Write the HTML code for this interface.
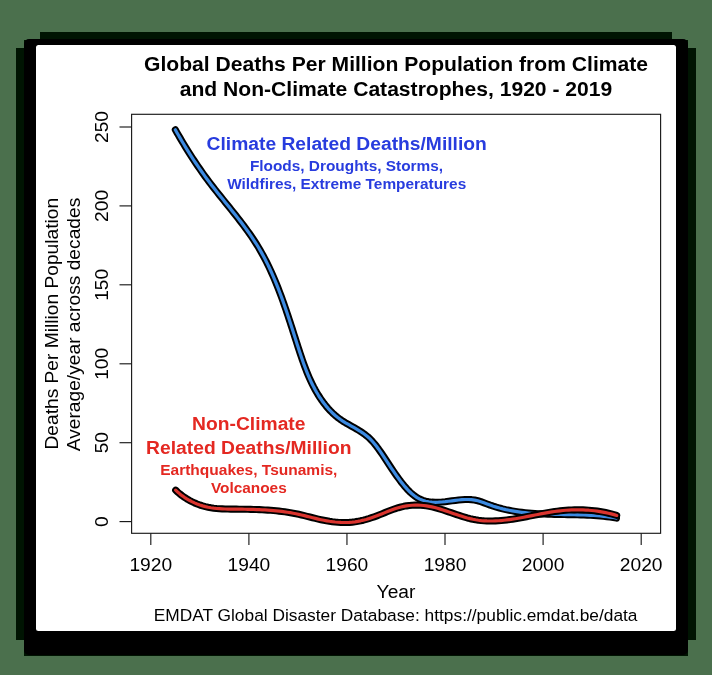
<!DOCTYPE html>
<html><head><meta charset="utf-8">
<style>
html,body{margin:0;padding:0;width:712px;height:675px;overflow:hidden;background:rgb(75,112,77);}
svg{position:absolute;left:0;top:0;will-change:transform;}
text{font-family:"Liberation Sans",sans-serif;}
</style></head>
<body>
<svg width="712" height="675" viewBox="0 0 712 675">
  <!-- shadow -->
  <g>
    <rect x="40" y="32" width="632" height="8" fill="rgb(0,20,2)"/>
    <rect x="24" y="40" width="664" height="616" fill="rgb(0,20,2)"/>
    <rect x="16" y="48" width="680" height="592" fill="rgb(0,20,2)"/>
    <rect x="24" y="39" width="664" height="616" rx="5" fill="#000"/>
  </g>
  <!-- card -->
  <rect x="36" y="45" width="640" height="586" rx="2.5" fill="#fff"/>

  <!-- title -->
  <g font-weight="bold" font-size="21.1" text-anchor="middle" fill="#000">
    <text x="396" y="70.8">Global Deaths Per Million Population from Climate</text>
    <text x="396" y="96.1">and Non-Climate Catastrophes, 1920 - 2019</text>
  </g>

  <!-- plot box -->
  <rect x="131.6" y="114.3" width="529" height="419" fill="none" stroke="#1a1a1a" stroke-width="1.15"/>

  <!-- y ticks -->
  <g stroke="#1a1a1a" stroke-width="1.15">
    <line x1="119.5" y1="127" x2="131.5" y2="127"/>
    <line x1="119.5" y1="205.9" x2="131.5" y2="205.9"/>
    <line x1="119.5" y1="284.8" x2="131.5" y2="284.8"/>
    <line x1="119.5" y1="363.8" x2="131.5" y2="363.8"/>
    <line x1="119.5" y1="442.7" x2="131.5" y2="442.7"/>
    <line x1="119.5" y1="521.6" x2="131.5" y2="521.6"/>
  </g>
  <g font-size="19.2" text-anchor="middle" fill="#000">
    <text transform="translate(108.4,127) rotate(-90)">250</text>
    <text transform="translate(108.4,205.9) rotate(-90)">200</text>
    <text transform="translate(108.4,284.8) rotate(-90)">150</text>
    <text transform="translate(108.4,363.8) rotate(-90)">100</text>
    <text transform="translate(108.4,442.7) rotate(-90)">50</text>
    <text transform="translate(108.4,521.6) rotate(-90)">0</text>
  </g>

  <!-- x ticks -->
  <g stroke="#1a1a1a" stroke-width="1.15">
    <line x1="150.8" y1="533.3" x2="150.8" y2="545"/>
    <line x1="248.9" y1="533.3" x2="248.9" y2="545"/>
    <line x1="346.95" y1="533.3" x2="346.95" y2="545"/>
    <line x1="445" y1="533.3" x2="445" y2="545"/>
    <line x1="543.1" y1="533.3" x2="543.1" y2="545"/>
    <line x1="641.2" y1="533.3" x2="641.2" y2="545"/>
  </g>
  <g font-size="19.2" text-anchor="middle" fill="#000">
    <text x="150.8" y="570.8">1920</text>
    <text x="248.9" y="570.8">1940</text>
    <text x="346.95" y="570.8">1960</text>
    <text x="445" y="570.8">1980</text>
    <text x="543.1" y="570.8">2000</text>
    <text x="641.2" y="570.8">2020</text>
  </g>

  <!-- axis titles -->
  <g font-size="19.2" text-anchor="middle" fill="#000">
    <text x="396" y="598.1">Year</text>
    <text transform="translate(58.2,323.7) rotate(-90)">Deaths Per Million Population</text>
    <text transform="translate(80.4,324.5) rotate(-90)">Average/year across decades</text>
  </g>
  <text x="395.6" y="621.3" font-size="17.34" text-anchor="middle" fill="#000">EMDAT Global Disaster Database: https://public.emdat.be/data</text>

  <!-- curves -->
  <defs>
    <path id="blue" d="M175.34,129.80 L176.98,132.67 L178.63,135.53 L180.30,138.37 L181.97,141.20 L183.66,144.00 L185.36,146.80 L187.07,149.58 L188.80,152.34 L190.54,155.09 L192.30,157.82 L194.08,160.54 L195.88,163.24 L197.70,165.93 L199.54,168.61 L201.40,171.28 L203.28,173.93 L205.19,176.57 L207.12,179.19 L209.08,181.81 L211.06,184.41 L213.06,187.00 L215.09,189.59 L217.12,192.16 L219.17,194.74 L221.23,197.30 L223.30,199.87 L225.37,202.43 L227.45,205.00 L229.52,207.56 L231.58,210.13 L233.64,212.71 L235.69,215.29 L237.73,217.88 L239.75,220.47 L241.75,223.08 L243.72,225.70 L245.68,228.34 L247.60,230.98 L249.50,233.65 L251.36,236.33 L253.18,239.03 L254.96,241.76 L256.71,244.50 L258.40,247.27 L260.06,250.06 L261.66,252.88 L263.23,255.72 L264.75,258.58 L266.24,261.45 L267.69,264.35 L269.10,267.27 L270.48,270.21 L271.82,273.16 L273.13,276.14 L274.42,279.12 L275.67,282.12 L276.90,285.14 L278.10,288.17 L279.28,291.21 L280.43,294.27 L281.57,297.34 L282.68,300.41 L283.78,303.50 L284.86,306.60 L285.93,309.70 L286.99,312.81 L288.03,315.93 L289.06,319.05 L290.09,322.18 L291.10,325.31 L292.12,328.45 L293.12,331.59 L294.13,334.73 L295.13,337.87 L296.14,341.02 L297.15,344.16 L298.16,347.30 L299.18,350.44 L300.21,353.57 L301.26,356.69 L302.33,359.81 L303.42,362.91 L304.54,365.99 L305.70,369.05 L306.90,372.09 L308.14,375.10 L309.43,378.09 L310.77,381.05 L312.17,383.97 L313.63,386.86 L315.16,389.72 L316.75,392.53 L318.42,395.29 L320.18,398.01 L322.01,400.68 L323.94,403.30 L325.95,405.85 L328.06,408.33 L330.26,410.73 L332.56,413.03 L334.95,415.23 L337.45,417.31 L340.06,419.28 L342.77,421.11 L345.57,422.82 L348.44,424.45 L351.32,426.06 L354.19,427.67 L357.04,429.32 L359.83,431.02 L362.56,432.81 L365.19,434.71 L367.71,436.74 L370.09,438.92 L372.34,441.26 L374.48,443.72 L376.53,446.29 L378.49,448.93 L380.39,451.63 L382.25,454.36 L384.07,457.09 L385.88,459.83 L387.67,462.56 L389.47,465.29 L391.27,468.01 L393.10,470.72 L394.95,473.42 L396.84,476.11 L398.78,478.78 L400.77,481.44 L402.83,484.07 L404.97,486.66 L407.18,489.16 L409.49,491.54 L411.89,493.77 L414.40,495.79 L417.02,497.59 L419.76,499.11 L422.62,500.33 L425.62,501.22 L428.72,501.82 L431.92,502.16 L435.19,502.28 L438.51,502.22 L441.87,502.00 L445.25,501.68 L448.62,501.28 L451.98,500.85 L455.31,500.41 L458.61,500.02 L461.88,499.71 L465.13,499.52 L468.34,499.49 L471.53,499.66 L474.68,500.08 L477.81,500.77 L480.91,501.70 L484.00,502.80 L487.09,503.96 L490.18,505.11 L493.29,506.18 L496.41,507.15 L499.55,508.05 L502.70,508.87 L505.86,509.61 L509.04,510.28 L512.22,510.88 L515.42,511.42 L518.63,511.90 L521.84,512.32 L525.07,512.69 L528.30,513.02 L531.55,513.30 L534.80,513.54 L538.05,513.74 L541.31,513.91 L544.58,514.06 L547.85,514.18 L551.13,514.28 L554.40,514.36 L557.69,514.43 L560.97,514.49 L564.25,514.55 L567.54,514.60 L570.82,514.66 L574.11,514.73 L577.39,514.81 L580.67,514.90 L583.95,515.01 L587.23,515.15 L590.50,515.31 L593.77,515.51 L597.03,515.73 L600.29,516.00 L603.54,516.31 L606.79,516.67 L610.02,517.07 L613.25,517.54 L616.47,518.06"/>
    <path id="red" d="M175.67,490.16 L177.69,492.07 L179.82,493.90 L182.06,495.64 L184.39,497.29 L186.81,498.84 L189.30,500.29 L191.86,501.63 L194.47,502.87 L197.14,503.99 L199.85,505.00 L202.59,505.88 L205.35,506.63 L208.12,507.25 L210.91,507.76 L213.71,508.17 L216.53,508.48 L219.35,508.71 L222.18,508.88 L225.02,508.99 L227.86,509.06 L230.71,509.11 L233.56,509.14 L236.42,509.16 L239.27,509.19 L242.13,509.22 L244.98,509.26 L247.84,509.31 L250.70,509.38 L253.55,509.45 L256.41,509.54 L259.26,509.65 L262.11,509.78 L264.96,509.94 L267.80,510.12 L270.65,510.32 L273.48,510.56 L276.32,510.82 L279.14,511.12 L281.97,511.46 L284.78,511.83 L287.59,512.24 L290.40,512.70 L293.19,513.20 L295.98,513.74 L298.76,514.34 L301.54,514.98 L304.31,515.64 L307.08,516.33 L309.85,517.03 L312.62,517.73 L315.40,518.41 L318.18,519.08 L320.98,519.71 L323.79,520.29 L326.61,520.82 L329.45,521.29 L332.29,521.69 L335.15,522.02 L338.01,522.27 L340.87,522.43 L343.72,522.51 L346.57,522.49 L349.41,522.37 L352.24,522.14 L355.05,521.81 L357.84,521.36 L360.61,520.81 L363.36,520.17 L366.10,519.43 L368.82,518.62 L371.53,517.74 L374.23,516.80 L376.91,515.81 L379.58,514.77 L382.24,513.71 L384.89,512.62 L387.55,511.55 L390.21,510.50 L392.88,509.50 L395.56,508.56 L398.27,507.71 L401.01,506.98 L403.77,506.36 L406.56,505.87 L409.37,505.49 L412.19,505.25 L415.02,505.12 L417.86,505.11 L420.69,505.23 L423.52,505.47 L426.33,505.84 L429.14,506.31 L431.93,506.89 L434.71,507.56 L437.47,508.30 L440.23,509.11 L442.97,509.96 L445.70,510.86 L448.42,511.78 L451.13,512.71 L453.84,513.65 L456.53,514.57 L459.23,515.48 L461.93,516.35 L464.64,517.18 L467.36,517.96 L470.10,518.66 L472.86,519.27 L475.64,519.79 L478.43,520.22 L481.25,520.56 L484.08,520.80 L486.92,520.95 L489.77,521.02 L492.62,521.00 L495.49,520.91 L498.35,520.76 L501.20,520.54 L504.06,520.26 L506.90,519.94 L509.74,519.57 L512.56,519.16 L515.38,518.71 L518.19,518.24 L521.00,517.74 L523.81,517.21 L526.60,516.68 L529.40,516.13 L532.20,515.57 L534.99,515.02 L537.78,514.47 L540.58,513.93 L543.38,513.40 L546.18,512.89 L548.98,512.41 L551.79,511.95 L554.60,511.53 L557.42,511.15 L560.25,510.81 L563.08,510.52 L565.93,510.28 L568.77,510.08 L571.62,509.94 L574.48,509.85 L577.33,509.82 L580.19,509.83 L583.04,509.91 L585.90,510.04 L588.74,510.22 L591.59,510.47 L594.42,510.77 L597.25,511.14 L600.07,511.56 L602.88,512.05 L605.67,512.60 L608.46,513.21 L611.23,513.89 L613.98,514.64 L616.71,515.45"/>
  </defs>
  <g fill="none" stroke-linecap="round" stroke-linejoin="round">
    <use href="#blue" stroke="#000" stroke-width="7.1"/>
    <use href="#blue" stroke="rgb(60,138,225)" stroke-width="3.2"/>
    <use href="#red" stroke="#000" stroke-width="7.1"/>
    <use href="#red" stroke="rgb(218,52,46)" stroke-width="3.2"/>
  </g>

  <!-- annotations -->
  <g font-weight="bold" text-anchor="middle" fill="rgb(40,60,222)">
    <text x="346.7" y="150.2" font-size="19.25">Climate Related Deaths/Million</text>
    <text x="346.5" y="171.1" font-size="15.4">Floods, Droughts, Storms,</text>
    <text x="346.7" y="189.1" font-size="15.4">Wildfires, Extreme Temperatures</text>
  </g>
  <g font-weight="bold" text-anchor="middle" fill="rgb(228,40,33)">
    <text x="248.8" y="430.3" font-size="19.25">Non-Climate</text>
    <text x="248.8" y="454" font-size="19.25">Related Deaths/Million</text>
    <text x="248.8" y="475.1" font-size="15.5">Earthquakes, Tsunamis,</text>
    <text x="248.8" y="493.3" font-size="15.4">Volcanoes</text>
  </g>
</svg>
</body></html>
